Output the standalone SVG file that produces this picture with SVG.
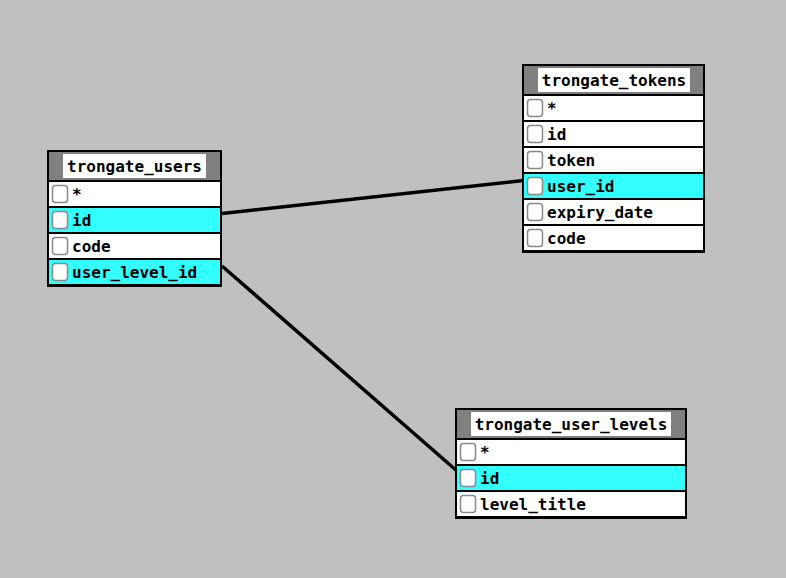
<svg xmlns="http://www.w3.org/2000/svg" width="786" height="578" viewBox="0 0 786 578">
<style>
.frame{fill:#000}
.head{fill:#808080}
.ttl{fill:#fff}
.row{fill:#fff}
.hl{fill:#33ffff}
.cb{fill:#fff;stroke:#8a8a8a;stroke-width:1.5}
.t{font-family:"DejaVu Sans Mono","Liberation Mono",monospace;font-weight:bold;font-size:16px;fill:#000}
.c{text-anchor:middle}
.conn{stroke:#000;stroke-width:3.5;fill:none}
</style>
<rect width="786" height="578" fill="#c0c0c0"/>
<g id="connectors">
<line class="conn" x1="222" y1="213.5" x2="523" y2="180.5"/>
<line class="conn" x1="222" y1="266" x2="457" y2="471"/>
</g>
<g id="trongate_users">
<rect class="frame" x="47" y="150" width="175" height="137"/>
<rect class="head" x="49" y="152" width="171" height="28"/>
<rect class="ttl" x="63" y="154" width="143" height="24"/>
<text class="t c" x="134.5" y="172">trongate_users</text>
<rect class="row" x="49" y="182" width="171" height="24"/>
<rect class="hl" x="49" y="208" width="171" height="24"/>
<rect class="row" x="49" y="234" width="171" height="24"/>
<rect class="hl" x="49" y="260" width="171" height="24"/>
<rect class="cb" x="52.5" y="185.5" width="15" height="17" rx="3"/>
<rect class="cb" x="52.5" y="211.5" width="15" height="17" rx="3"/>
<rect class="cb" x="52.5" y="237.5" width="15" height="17" rx="3"/>
<rect class="cb" x="52.5" y="263.5" width="15" height="17" rx="3"/>
<text class="t" x="72" y="200">*</text>
<text class="t" x="72" y="226">id</text>
<text class="t" x="72" y="252">code</text>
<text class="t" x="72" y="278">user_level_id</text>
</g>
<g id="trongate_tokens">
<rect class="frame" x="522" y="64" width="183" height="189"/>
<rect class="head" x="524" y="66" width="179" height="28"/>
<rect class="ttl" x="538" y="68" width="152" height="24"/>
<text class="t c" x="614" y="86">trongate_tokens</text>
<rect class="row" x="524" y="96" width="179" height="24"/>
<rect class="row" x="524" y="122" width="179" height="24"/>
<rect class="row" x="524" y="148" width="179" height="24"/>
<rect class="hl" x="524" y="174" width="179" height="24"/>
<rect class="row" x="524" y="200" width="179" height="24"/>
<rect class="row" x="524" y="226" width="179" height="24"/>
<rect class="cb" x="527.5" y="99.5" width="15" height="17" rx="3"/>
<rect class="cb" x="527.5" y="125.5" width="15" height="17" rx="3"/>
<rect class="cb" x="527.5" y="151.5" width="15" height="17" rx="3"/>
<rect class="cb" x="527.5" y="177.5" width="15" height="17" rx="3"/>
<rect class="cb" x="527.5" y="203.5" width="15" height="17" rx="3"/>
<rect class="cb" x="527.5" y="229.5" width="15" height="17" rx="3"/>
<text class="t" x="547" y="114">*</text>
<text class="t" x="547" y="140">id</text>
<text class="t" x="547" y="166">token</text>
<text class="t" x="547" y="192">user_id</text>
<text class="t" x="547" y="218">expiry_date</text>
<text class="t" x="547" y="244">code</text>
</g>
<g id="trongate_user_levels">
<rect class="frame" x="455" y="408" width="232" height="111"/>
<rect class="head" x="457" y="410" width="228" height="28"/>
<rect class="ttl" x="471" y="412" width="200" height="24"/>
<text class="t c" x="571" y="430">trongate_user_levels</text>
<rect class="row" x="457" y="440" width="228" height="24"/>
<rect class="hl" x="457" y="466" width="228" height="24"/>
<rect class="row" x="457" y="492" width="228" height="24"/>
<rect class="cb" x="460.5" y="443.5" width="15" height="17" rx="3"/>
<rect class="cb" x="460.5" y="469.5" width="15" height="17" rx="3"/>
<rect class="cb" x="460.5" y="495.5" width="15" height="17" rx="3"/>
<text class="t" x="480" y="458">*</text>
<text class="t" x="480" y="484">id</text>
<text class="t" x="480" y="510">level_title</text>
</g>
</svg>
